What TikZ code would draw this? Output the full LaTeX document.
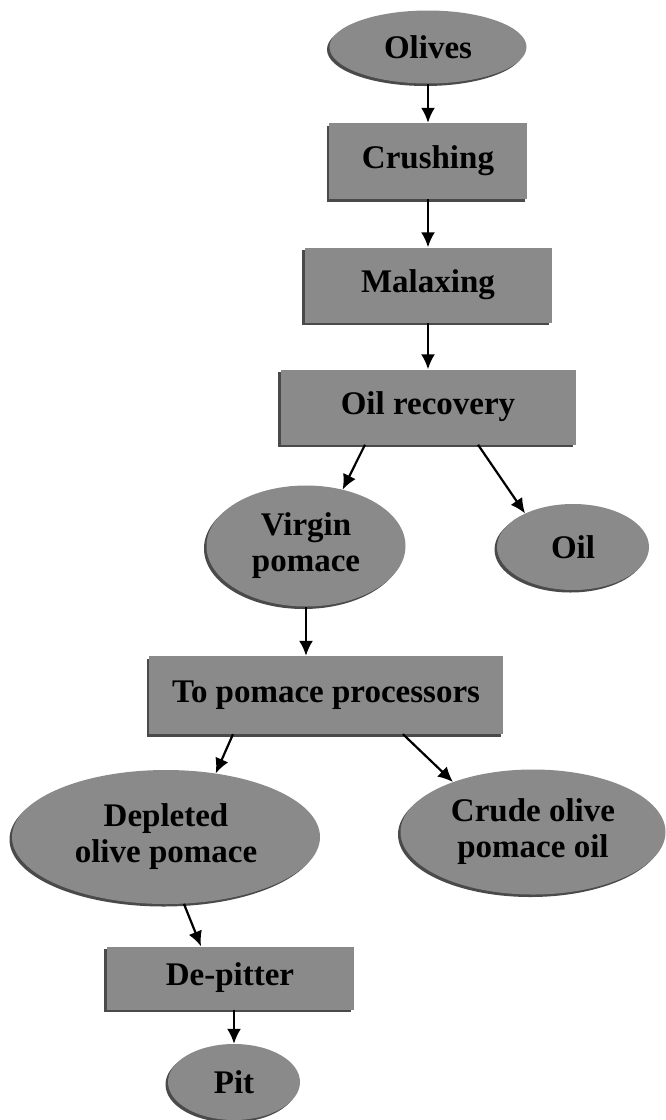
\documentclass[tikz,border=0pt]{standalone}
\usepackage{fontspec}
\setmainfont{Liberation Serif}
\usetikzlibrary{shapes.geometric,arrows.meta,shadows}
\definecolor{boxfill}{HTML}{8A8A8A}
\definecolor{boxshade}{HTML}{4A4A4A}
\tikzset{
  shade3d/.style={drop shadow={shadow xshift=-2.5pt,shadow yshift=-2.5pt,fill=boxshade,opacity=1}},
  stepbox/.style={rectangle,fill=boxfill,shade3d,inner sep=0pt,align=center,
    font=\fontsize{33}{36}\selectfont\bfseries},
  oval/.style={ellipse,fill=boxfill,shade3d,inner sep=0pt,align=center,
    font=\fontsize{33}{36}\selectfont\bfseries},
  arr/.style={-{Latex[length=15pt,width=14pt]},line width=2.2pt,black},
}
\begin{document}
\begin{tikzpicture}[x=1pt,y=-1pt]
\useasboundingbox[fill=white] (0,0) rectangle (665,1120);
\node[oval,minimum width=197pt,minimum height=73pt] (olives) at (428,47) {Olives};
\node[stepbox,minimum width=198pt,minimum height=76pt] (crush) at (428,161) {Crushing};
\node[stepbox,minimum width=247pt,minimum height=75pt] (malax) at (428,285) {Malaxing};
\node[stepbox,minimum width=295pt,minimum height=75pt] (orec) at (428,407) {Oil recovery};
\node[oval,minimum width=199pt,minimum height=121pt] (virgin) at (306,546) {Virgin\\pomace};
\node[oval,minimum width=152pt,minimum height=86pt] (oil) at (573,547) {Oil};
\node[stepbox,minimum width=354pt,minimum height=78pt] (topp) at (326,695) {To pomace processors};
\node[oval,minimum width=308pt,minimum height=134pt] (depl) at (166,837) {Depleted\\olive pomace};
\node[oval,minimum width=265pt,minimum height=125pt] (crude) at (533,832) {Crude olive\\pomace oil};
\node[stepbox,minimum width=247pt,minimum height=63pt] (depit) at (230,978) {De-pitter};
\node[oval,minimum width=132pt,minimum height=76pt] (pit) at (234,1082) {Pit};

\draw[arr] (olives.south) -- (crush.north);
\draw[arr] (crush.south) -- (malax.north);
\draw[arr] (malax.south) -- (orec.north);
\draw[arr] ([xshift=-63pt]orec.south) -- (virgin.57);
\draw[arr] ([xshift=50pt]orec.south) -- (oil.145);
\draw[arr] (virgin.south) -- (virgin.south |- topp.north);
\draw[arr] ([xshift=-93pt]topp.south) -- (depl.52);
\draw[arr] ([xshift=77pt]topp.south) -- (crude.148);
\draw[arr] (depl.-75) -- ([xshift=-29pt]depit.north);
\draw[arr] (depit.south -| pit.north) -- (pit.north);
\end{tikzpicture}
\end{document}
